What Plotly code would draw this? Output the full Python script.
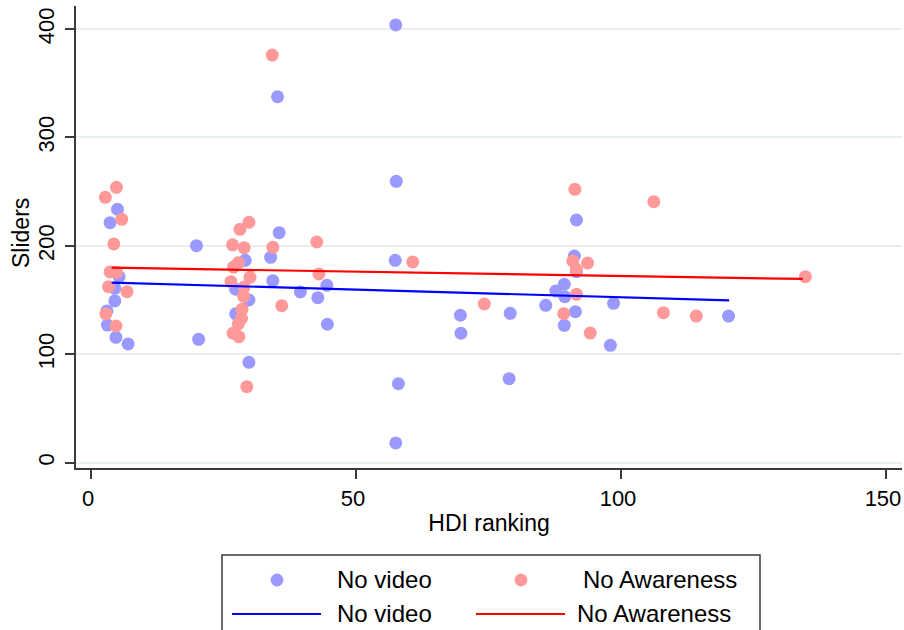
import plotly.graph_objects as go

# HDI ranking (x) and slider responses (y) for each condition
video_x = [5.0, 3.6, 5.3, 4.5, 4.5, 3.0, 3.1, 4.7, 7.0,
           35.2, 35.5, 19.9, 33.9, 29.1, 34.3, 27.3, 29.8, 27.3, 20.3, 29.8,
           39.5, 42.8, 44.5, 44.6,
           57.5, 57.6, 57.4, 58.0, 57.5,
           69.7, 69.8, 78.9, 79.1,
           91.2, 91.6, 89.3, 87.7, 89.4, 85.8, 98.6, 91.4, 89.3, 98.0, 91.6,
           120.3]
video_y = [233.8, 221.4, 171.6, 160.9, 149.2, 140.0, 127.0, 115.7, 109.6,
           337.6, 212.2, 200.2, 189.5, 186.7, 167.9, 160.1, 150.1, 137.3, 113.8, 92.6,
           157.5, 152.2, 163.6, 127.7,
           403.8, 259.6, 186.7, 72.9, 18.2,
           136.0, 119.4, 77.5, 137.8,
           190.7, 176.2, 164.6, 158.4, 153.1, 145.2, 147.0, 139.3, 126.7, 108.3, 223.9,
           135.3]

aware_x = [4.8, 2.7, 5.8, 4.3, 3.6, 4.8, 3.3, 6.8, 2.8, 4.7,
           34.2, 29.8, 28.1, 26.7, 28.9, 34.3, 27.8, 26.9, 30.0, 26.4,
           28.9, 28.8, 36.0, 28.5, 28.4, 27.8, 26.8, 27.9, 29.4,
           42.6, 43.0, 60.7, 74.2,
           91.3, 90.9, 93.7, 91.6, 91.6, 89.2, 94.2,
           106.2, 108.0, 114.2, 134.8]
aware_y = [254.0, 244.8, 224.5, 201.8, 176.0, 175.5, 162.4, 157.8, 137.2, 126.1,
           376.0, 221.8, 215.3, 201.0, 198.4, 198.7, 184.5, 180.5, 171.0, 167.0,
           162.0, 153.5, 144.8, 141.5, 133.2, 128.0, 119.4, 116.3, 70.1,
           203.6, 174.1, 185.2, 146.4,
           252.2, 186.1, 184.2, 178.4, 155.3, 137.5, 119.6,
           240.8, 138.4, 135.3, 171.6]

# Linear fit endpoints for each condition
fit_video_x = [3.9, 120.4]
fit_video_y = [166.1, 149.8]
fit_aware_x = [3.9, 134.3]
fit_aware_y = [179.9, 169.5]

x_ticks = [0, 50, 100, 150]
y_ticks = [0, 100, 200, 300, 400]
series_names = ["No video", "No Awareness"]

BLUE_DOT = "#9999ff"
RED_DOT = "#ff9999"
BLUE_LINE = "#0000ff"
RED_LINE = "#ff0000"
FONT = "Liberation Sans, Arial, sans-serif"
AXIS_COL = "#3a3a3a"
FS = 24        # legend text
FS_TITLE = 23  # axis titles
FS_TICK = 22   # tick labels

fig = go.Figure()
fig.add_trace(go.Scatter(x=video_x, y=video_y, mode="markers", name=series_names[0],
                         marker=dict(color=BLUE_DOT, size=13, line=dict(width=0))))
fig.add_trace(go.Scatter(x=aware_x, y=aware_y, mode="markers", name=series_names[1],
                         marker=dict(color=RED_DOT, size=13, line=dict(width=0))))
fig.add_trace(go.Scatter(x=fit_video_x, y=fit_video_y, mode="lines", name=series_names[0],
                         line=dict(color=BLUE_LINE, width=2.2)))
fig.add_trace(go.Scatter(x=fit_aware_x, y=fit_aware_y, mode="lines", name=series_names[1],
                         line=dict(color=RED_LINE, width=2.2)))

W, H = 904, 630
ML, MR, MT, MB = 76, 2, 6, 162
PW, PH = W - ML - MR, H - MT - MB


def px(xp):
    return (xp - ML) / PW


def py(yp):
    return (H - MB - yp) / PH


fig.update_layout(
    width=W, height=H,
    margin=dict(l=ML, r=MR, t=MT, b=MB, pad=0),
    paper_bgcolor="white", plot_bgcolor="white",
    showlegend=False,
    font=dict(family=FONT, size=FS_TICK, color="black"),
)
fig.update_xaxes(
    range=[-2.83, 153.02], tickvals=x_ticks, ticktext=[str(v) for v in x_ticks],
    tickfont=dict(size=FS_TICK),
    showgrid=False, zeroline=False, automargin=False,
    showline=True, linecolor=AXIS_COL, linewidth=1.5,
    ticks="outside", ticklen=9, tickwidth=1.5, tickcolor=AXIS_COL,
    ticklabelstandoff=1, ticklabeloverflow="allow", ticklabelshift=-3,
    title=dict(text="HDI ranking", standoff=5, font=dict(size=FS_TITLE)),
)
fig.update_yaxes(
    range=[-4.89, 421.3], tickvals=y_ticks, ticktext=[str(v) for v in y_ticks],
    tickfont=dict(size=FS_TICK), tickangle=-90,
    showgrid=True, gridcolor="#e8eff1", gridwidth=1.5, zeroline=False, automargin=False,
    showline=True, linecolor=AXIS_COL, linewidth=1.5,
    ticks="outside", ticklen=9, tickwidth=1.5, tickcolor=AXIS_COL,
    ticklabelstandoff=2,
)

# Vertical axis title
annotations = [dict(xref="paper", yref="paper", x=px(21), y=py(233), text="Sliders",
                    textangle=-90, showarrow=False, xanchor="center", yanchor="middle",
                    font=dict(family=FONT, size=FS_TITLE, color="black"))]

# Legend box drawn below the plot
shapes = [dict(type="rect", xref="paper", yref="paper",
               x0=px(222), x1=px(760), y0=py(555), y1=py(645),
               line=dict(color=AXIS_COL, width=1.5), fillcolor="rgba(0,0,0,0)")]
r = 6.4
for cx, col in [(277, BLUE_DOT), (521, RED_DOT)]:
    shapes.append(dict(type="circle", xref="paper", yref="paper",
                       x0=px(cx - r), x1=px(cx + r), y0=py(580 + r), y1=py(580 - r),
                       line=dict(width=0), fillcolor=col))
for x0, x1, col in [(232, 321, BLUE_LINE), (476, 565, RED_LINE)]:
    shapes.append(dict(type="line", xref="paper", yref="paper",
                       x0=px(x0), x1=px(x1), y0=py(614), y1=py(614),
                       line=dict(color=col, width=2.2)))
fig.update_layout(shapes=shapes)

for xl, yl, txt in [(335, 579, series_names[0]), (581, 579, series_names[1]),
                    (335, 613, series_names[0]), (575, 613, series_names[1])]:
    annotations.append(dict(xref="paper", yref="paper", x=px(xl), y=py(yl),
                            text=txt, showarrow=False, xanchor="left", yanchor="middle",
                            font=dict(family=FONT, size=FS, color="black")))
fig.update_layout(annotations=annotations)

fig.write_html("out.html")
